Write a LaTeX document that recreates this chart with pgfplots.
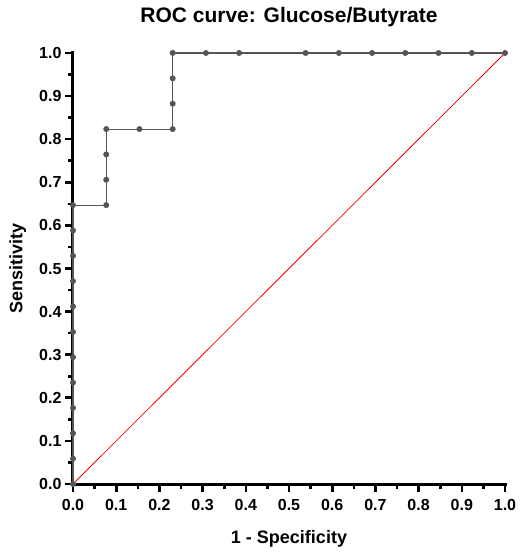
\documentclass[border=0pt]{standalone}
\usepackage{fontspec}
\setmainfont{Liberation Sans}
\usepackage{pgfplots}
\pgfplotsset{compat=1.18}

\definecolor{roc}{HTML}{555555}

\begin{document}
\begin{tikzpicture}
\begin{axis}[
  width=432pt, height=431pt, scale only axis,
  xmin=0, xmax=1, ymin=0, ymax=1,
  enlargelimits=false,
  clip=false,
  axis x line=bottom, axis y line=left,
  axis line style={-, line width=3pt, line cap=rect},
  xtick={0,0.1,...,1.01}, ytick={0,0.1,...,1.01},
  xticklabels={\textbf{0.0},\textbf{0.1},\textbf{0.2},\textbf{0.3},\textbf{0.4},\textbf{0.5},\textbf{0.6},\textbf{0.7},\textbf{0.8},\textbf{0.9},\textbf{1.0}},
  yticklabels={\textbf{0.0},\textbf{0.1},\textbf{0.2},\textbf{0.3},\textbf{0.4},\textbf{0.5},\textbf{0.6},\textbf{0.7},\textbf{0.8},\textbf{0.9},\textbf{1.0}},
  minor tick num=1,
  tick align=outside,
  major tick length=8pt, minor tick length=4.5pt,
  every tick/.style={black, line width=2.6pt},
  tick label style={font=\bfseries\fontsize{16}{18}\selectfont},
  xticklabel style={yshift=-4pt},
  title={ROC curve: Glucose/Butyrate},
  title style={font=\bfseries\fontsize{21}{24}\selectfont, at={(axis description cs:0.5,1.069)}, anchor=center},
  xlabel={1 - Specificity},
  ylabel={Sensitivity},
  xlabel style={font=\bfseries\fontsize{18}{21}\selectfont, at={(axis description cs:0.5,-0.128)}, anchor=center},
  ylabel style={font=\bfseries\fontsize{18}{21}\selectfont, at={(axis description cs:-0.128,0.5)}, anchor=center},
]
\addplot[red, line width=0.8pt] coordinates {(0,0) (1,1)};
\addplot[roc, line width=1.1pt, mark=*, mark size=2.4pt, mark options={fill=roc, draw=roc}] coordinates {
  (0,0) (0,0.0588) (0,0.1176) (0,0.1765) (0,0.2353) (0,0.2941) (0,0.3529)
  (0,0.4118) (0,0.4706) (0,0.5294) (0,0.5882) (0,0.6471)
  (0.0769,0.6471) (0.0769,0.7059) (0.0769,0.7647) (0.0769,0.8235)
  (0.1538,0.8235) (0.2308,0.8235) (0.2308,0.8824) (0.2308,0.9412) (0.2308,1)
  (0.3077,1) (0.3846,1) (0.5385,1) (0.6154,1) (0.6923,1) (0.7692,1)
  (0.8462,1) (0.9231,1) (1,1)
};
\end{axis}
\path[use as bounding box] (-73pt,-69pt) rectangle (447pt,484pt);
\end{tikzpicture}
\end{document}
